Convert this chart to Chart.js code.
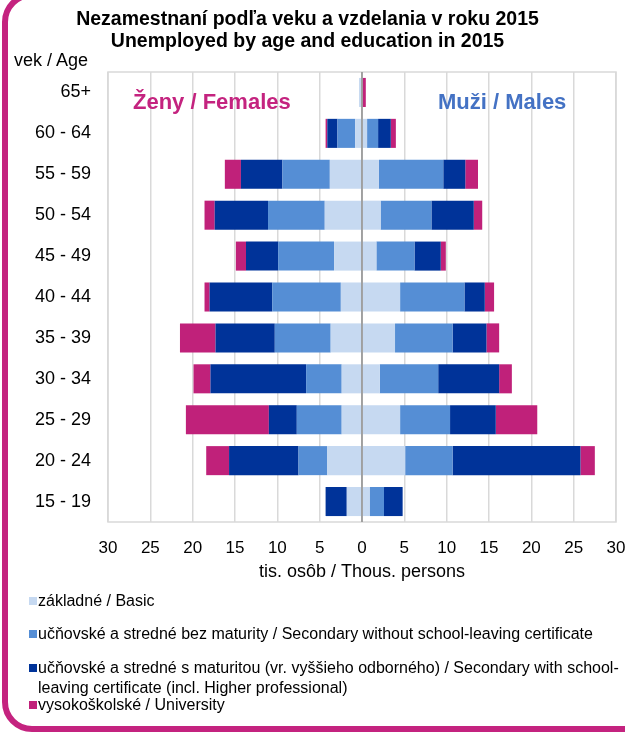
<!DOCTYPE html>
<html>
<head>
<meta charset="utf-8">
<script src="https://cdn.jsdelivr.net/npm/chart.js@4.4.1/dist/chart.umd.min.js"></script>
<style>
  html, body { margin: 0; padding: 0; background: #fff; }
  body { width: 625px; height: 733px; position: relative; overflow: hidden; font-family: "Liberation Sans", Arial, sans-serif; }
  #frame { position: absolute; left: 2px; top: -8px; width: 700px; height: 740px; box-sizing: border-box;
           border: 6px solid #C4237F; border-radius: 30px; }
  #title { position: absolute; left: 0; top: 7px; width: 615px; text-align: center; font-weight: bold;
           font-size: 19.5px; line-height: 22px; color: #000; }
  #ageLbl { position: absolute; left: 14px; top: 50px; font-size: 18px; line-height: 20px; }
  .side { position: absolute; top: 89px; font-weight: bold; font-size: 22px; line-height: 26px; }
  #box { position: absolute; left: 0; top: 0; width: 625px; height: 600px; }
  .leg { position: absolute; left: 38px; width: 590px; font-size: 16px; line-height: 20px; color: #000; }
  .leg i { position: absolute; left: -9px; top: 6px; width: 8px; height: 8px; }
</style>
</head>
<body>
<div id="frame"></div>
<div id="box"><canvas id="myChart"></canvas></div>
<div id="title">Nezamestnaní podľa veku a vzdelania v roku 2015<br>Unemployed by age and education in 2015</div>
<div id="ageLbl">vek / Age</div>
<div class="side" style="left:133px;color:#C4237F">Ženy / Females</div>
<div class="side" style="left:438px;color:#4472C4">Muži / Males</div>
<div id="legend"></div>

<script>
// age groups, top to bottom
const ages = ['65+', '60 - 64', '55 - 59', '50 - 54', '45 - 49', '40 - 44', '35 - 39', '30 - 34', '25 - 29', '20 - 24', '15 - 19'];

// thousands of persons, females
const femBasic  = [0.35, 0.8, 3.8, 4.4, 3.3, 2.5, 3.7, 2.4, 2.4, 4.1, 1.8];
const femSecNo  = [0, 2.1, 5.6, 6.7, 6.6, 8.1, 6.6, 4.2, 5.3, 3.4, 0];
const femSecYes = [0, 1.2, 4.9, 6.3, 3.8, 7.4, 7.0, 11.3, 3.3, 8.2, 2.5];
const femUni    = [0, 0.2, 1.9, 1.2, 1.2, 0.6, 4.2, 2.0, 9.8, 2.7, 0];

// thousands of persons, males
const maleBasic  = [0, 0.6, 2.0, 2.2, 1.7, 4.5, 3.9, 2.1, 4.5, 5.1, 0.9];
const maleSecNo  = [0, 1.3, 7.6, 6.0, 4.5, 7.6, 6.8, 6.9, 5.9, 5.6, 1.7];
const maleSecYes = [0, 1.5, 2.6, 5.0, 3.1, 2.4, 4.0, 7.2, 5.4, 15.1, 2.2];
const maleUni    = [0.45, 0.6, 1.5, 1.0, 0.6, 1.1, 1.5, 1.5, 4.9, 1.7, 0];

const xTicks = [-30, -25, -20, -15, -10, -5, 0, 5, 10, 15, 20, 25, 30];

const eduNames = [
    'základné / Basic',
    'učňovské a stredné bez maturity / Secondary without school-leaving certificate',
    'učňovské a stredné s maturitou (vr. vyššieho odborného) / Secondary with school-leaving certificate (incl. Higher professional)',
    'vysokoškolské / University'
];
const eduColors = ['#C6D9F1', '#558ED5', '#003399', '#C0217A'];

const femData = [femBasic, femSecNo, femSecYes, femUni];
const maleData = [maleBasic, maleSecNo, maleSecYes, maleUni];

let datasets = [];
femData.forEach((arr, i) => {
    datasets.push({ label: eduNames[i], data: arr.map(v => -v), backgroundColor: eduColors[i], stack: 'all' });
});
maleData.forEach((arr, i) => {
    datasets.push({ label: eduNames[i], data: arr, backgroundColor: eduColors[i], stack: 'all' });
});

// frame round the plot area + darker zero line on top of the bars
const plotFrame = {
    id: 'plotFrame',
    beforeDatasetsDraw(chart) {
        const a = chart.chartArea, ctx = chart.ctx;
        ctx.save();
        ctx.strokeStyle = '#d9d9d9';
        ctx.lineWidth = 1.5;
        ctx.strokeRect(a.left, a.top, a.right - a.left, a.bottom - a.top);
        ctx.restore();
    },
    afterDatasetsDraw(chart) {
        const a = chart.chartArea, ctx = chart.ctx;
        const x0 = chart.scales.x.getPixelForValue(0);
        ctx.save();
        ctx.strokeStyle = '#8c8c8c';
        ctx.lineWidth = 1.5;
        ctx.beginPath();
        ctx.moveTo(x0, a.top);
        ctx.lineTo(x0, a.bottom);
        ctx.stroke();
        ctx.restore();
    }
};

let ctx = document.getElementById('myChart').getContext('2d');
let chart = new Chart(ctx, {
    type: 'bar',
    data: { labels: ages, datasets: datasets },
    options: {
        indexAxis: 'y',
        responsive: true,
        maintainAspectRatio: false,
        animation: false,
        datasets: { bar: { categoryPercentage: 1, barPercentage: 0.71, borderWidth: 0 } },
        layout: { padding: { top: 72, right: 9, left: 0, bottom: 0 } },
        plugins: {
            legend: { display: false },
            tooltip: { enabled: false }
        },
        scales: {
            x: {
                stacked: true,
                min: -30,
                max: 30,
                afterBuildTicks: (scale) => { scale.ticks = xTicks.map(v => ({ value: v })); },
                afterFit: (scale) => {
                    scale.height = 78;
                    scale.paddingLeft = 0;
                    scale.paddingRight = 0;
                },
                ticks: {
                    color: '#000',
                    padding: 16,
                    font: { family: 'Liberation Sans', size: 17 },
                    callback: (v) => Math.abs(v)
                },
                grid: { color: '#d9d9d9', lineWidth: 1.5, drawTicks: false },
                border: { display: false },
                title: {
                    display: true,
                    text: 'tis. osôb / Thous. persons',
                    color: '#000',
                    font: { family: 'Liberation Sans', size: 18 },
                    padding: { top: 0, bottom: 17 }
                }
            },
            y: {
                stacked: true,
                afterFit: (scale) => { scale.width = 108; },
                ticks: {
                    color: '#000',
                    padding: 17,
                    font: { family: 'Liberation Sans', size: 18 }
                },
                grid: { display: false, drawTicks: false },
                border: { display: false }
            }
        }
    },
    plugins: [plotFrame]
});

// legend below the chart, one entry per education level
const legTops = [591, 624, 658, 695];
let legend = document.getElementById('legend');
eduNames.forEach((name, i) => {
    let d = document.createElement('div');
    d.className = 'leg';
    d.style.top = legTops[i] + 'px';
    d.innerHTML = '<i style="background:' + eduColors[i] + '"></i>' + name;
    legend.appendChild(d);
});
</script>
</body>
</html>
